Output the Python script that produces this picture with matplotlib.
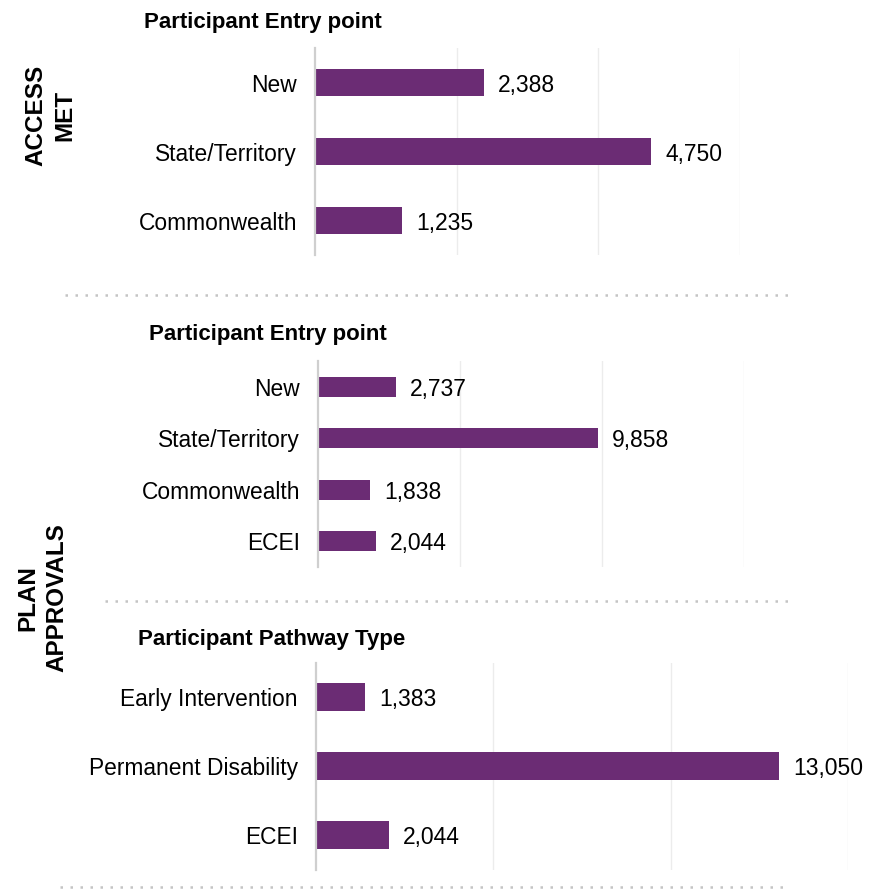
import matplotlib.pyplot as plt
from matplotlib.lines import Line2D

plt.rcParams['font.family'] = ['Liberation Sans', 'DejaVu Sans']

BAR_COLOR = "#6b2c74"

# data, top to bottom
access_cats = ["New", "State/Territory", "Commonwealth"]
access_vals = [2388, 4750, 1235]

entry_cats = ["New", "State/Territory", "Commonwealth", "ECEI"]
entry_vals = [2737, 9858, 1838, 2044]

pathway_cats = ["Early Intervention", "Permanent Disability", "ECEI"]
pathway_vals = [1383, 13050, 2044]


def bar_panel(ax, cats, vals, xmax, step, bar_h):
    y = list(range(len(cats)))
    ax.barh(y, vals, height=bar_h, color=BAR_COLOR, zorder=3)
    ax.set_yticks(y)
    ax.set_yticklabels(cats, fontsize=16.4)
    ax.set_ylim(len(cats) - 0.5, -0.5)
    ax.set_xlim(0, xmax)
    for g in range(step, xmax + 1, step):
        ax.axvline(g, color="#ececec", lw=1, zorder=1)
    for yy, v in zip(y, vals):
        ax.annotate(f"{v:,}", (v, yy), xytext=(10, 0), textcoords="offset points",
                    va="center_baseline", ha="left", fontsize=16.5)
    for s in ["top", "right", "bottom"]:
        ax.spines[s].set_visible(False)
    ax.spines["left"].set_color("#cfcfcf")
    ax.spines["left"].set_linewidth(1.6)
    ax.spines["left"].set_zorder(4)
    ax.set_xticks([])
    ax.tick_params(axis="y", length=0, pad=13)


fig = plt.figure(figsize=(8.88, 8.91), dpi=100)

ax1 = fig.add_axes([0.3547, 0.7138, 0.4786, 0.2323])
bar_panel(ax1, access_cats, access_vals, 6000, 2000, 0.4)

ax2 = fig.add_axes([0.3581, 0.3636, 0.4797, 0.2312])
bar_panel(ax2, entry_cats, entry_vals, 15000, 5000, 0.39)

ax3 = fig.add_axes([0.3559, 0.0241, 0.5991, 0.2323])
bar_panel(ax3, pathway_cats, pathway_vals, 15000, 5000, 0.4)

# panel titles
fig.text(0.2962, 0.9753, "Participant Entry point", fontsize=16, fontweight="bold",
         ha="center", va="center")
fig.text(0.3012, 0.6251, "Participant Entry point", fontsize=16, fontweight="bold",
         ha="center", va="center")
fig.text(0.3063, 0.2828, "Participant Pathway Type", fontsize=16, fontweight="bold",
         ha="center", va="center")

# side group labels
fig.text(0.057, 0.870, "ACCESS\nMET", fontsize=17.5, fontweight="bold", rotation=90,
         ha="center", va="center", multialignment="center", linespacing=1.35)
fig.text(0.048, 0.329, "PLAN\nAPPROVALS", fontsize=17.5, fontweight="bold", rotation=90,
         ha="center", va="center", multialignment="center", linespacing=1.35)

# dotted separators
for x0, x1, yy in [(0.073, 0.890, 0.6689), (0.118, 0.890, 0.3255), (0.068, 0.890, 0.0045)]:
    fig.add_artist(Line2D([x0, x1], [yy, yy], transform=fig.transFigure,
                          color="#c4c4c4", lw=1.8, linestyle=(0, (1, 3))))

plt.savefig("out.png", dpi=100)
